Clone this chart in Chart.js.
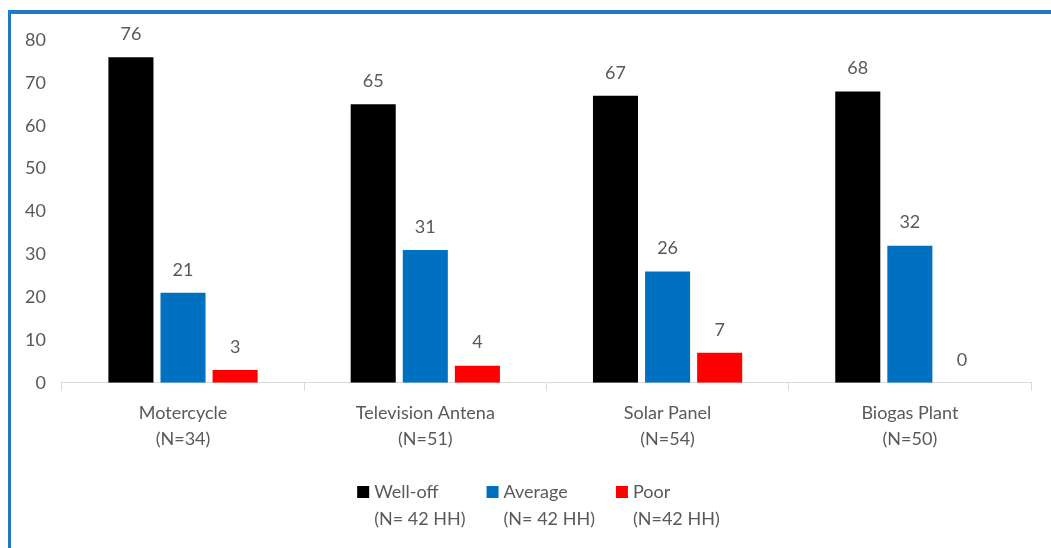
<!DOCTYPE html>
<html>
<head>
<meta charset="utf-8">
<script src="https://cdn.jsdelivr.net/npm/chart.js@4/dist/chart.umd.min.js"></script>
<style>
  html, body { margin: 0; padding: 0; background: #fff; }
  #wrap { position: relative; width: 1051px; height: 548px; overflow: hidden; }
  #frame {
    position: absolute; left: 8px; top: 10px; right: -10px; bottom: -10px;
    border-top: 4px solid #1f78c8; border-left: 3px solid #1f78c8;
  }
  canvas { position: absolute; left: 0; top: 0; }
</style>
</head>
<body>
<div id="wrap">
  <canvas id="chart" width="1051" height="548"></canvas>
  <div id="frame"></div>
</div>
<script>
const categories = [
  ['Motercycle', '(N=34)'],
  ['Television Antena', '(N=51)'],
  ['Solar Panel', '(N=54)'],
  ['Biogas Plant', '(N=50)']
];
const seriesNames = ['Well-off', 'Average', 'Poor'];
const seriesNotes = ['(N= 42 HH)', '(N= 42 HH)', '(N=42 HH)'];
const wellOff = [76, 65, 67, 68];
const average = [21, 31, 26, 32];
const poor = [3, 4, 7, 0];
const seriesColors = ['#000000', '#0070C0', '#FF0000'];
const yTicks = [0, 10, 20, 30, 40, 50, 60, 70, 80];

const FONT = 'Lato, "Open Sans", sans-serif';
const TEXT = '#595959';

// value above each bar
const valueLabels = {
  id: 'valueLabels',
  afterDatasetsDraw(chart) {
    const ctx = chart.ctx;
    ctx.save();
    ctx.font = '18px ' + FONT;
    ctx.fillStyle = TEXT;
    ctx.textAlign = 'center';
    ctx.textBaseline = 'middle';
    chart.data.datasets.forEach((ds, i) => {
      chart.getDatasetMeta(i).data.forEach((bar, j) => {
        ctx.fillText(String(ds.data[j]), bar.x, bar.y - 23);
      });
    });
    ctx.restore();
  }
};

// two-line legend under the axis
const twoLineLegend = {
  id: 'twoLineLegend',
  afterDraw(chart) {
    const ctx = chart.ctx;
    const box = 12, gap = 5, spacing = 21, lineH = 27;
    ctx.save();
    ctx.font = '18px ' + FONT;
    const widths = chart.data.datasets.map((ds, i) =>
      box + gap + Math.max(ctx.measureText(ds.label).width, ctx.measureText(seriesNotes[i]).width));
    const total = widths.reduce((a, b) => a + b, 0) + spacing * (widths.length - 1);
    let x = (chart.chartArea.left + chart.chartArea.right) / 2 - 8 - total / 2;
    const y = 492;
    ctx.textBaseline = 'middle';
    ctx.textAlign = 'left';
    chart.data.datasets.forEach((ds, i) => {
      ctx.fillStyle = ds.backgroundColor;
      ctx.fillRect(x, y - box / 2, box, box);
      ctx.fillStyle = TEXT;
      ctx.fillText(ds.label, x + box + gap, y);
      ctx.fillText(seriesNotes[i], x + box + gap, y + lineH);
      x += widths[i] + spacing;
    });
    ctx.restore();
  }
};

new Chart(document.getElementById('chart'), {
  type: 'bar',
  data: {
    labels: categories,
    datasets: [wellOff, average, poor].map((d, i) => ({
      label: seriesNames[i],
      data: d,
      backgroundColor: seriesColors[i],
      categoryPercentage: 0.645,
      barPercentage: 0.865
    }))
  },
  options: {
    responsive: false,
    animation: false,
    layout: { padding: { left: 9, right: 20, top: 40, bottom: 87 } },
    plugins: {
      legend: { display: false },
      tooltip: { enabled: false }
    },
    scales: {
      y: {
        min: 0,
        max: 80,
        afterBuildTicks(scale) { scale.ticks = yTicks.map(v => ({ value: v })); },
        grid: { display: false, drawTicks: false },
        border: { display: false },
        ticks: { color: TEXT, font: { family: FONT, size: 18 }, padding: 16 }
      },
      x: {
        grid: { drawOnChartArea: false, tickLength: 8, color: '#D9D9D9', offset: true },
        border: { color: '#D9D9D9' },
        ticks: { color: TEXT, font: { family: FONT, size: 18, lineHeight: 1.45 }, padding: 9 }
      }
    }
  },
  plugins: [valueLabels, twoLineLegend]
});
</script>
</body>
</html>
